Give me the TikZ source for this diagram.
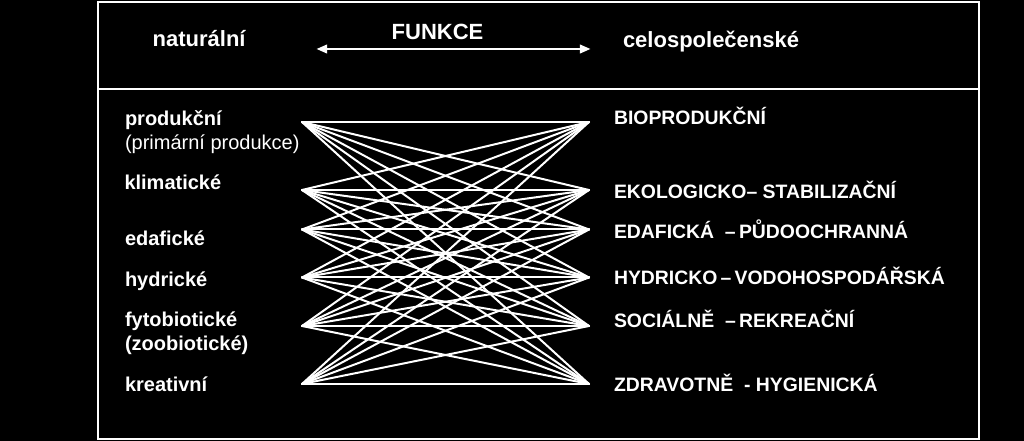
\documentclass[tikz,border=0pt]{standalone}
\usepackage{fontspec}
\setmainfont{Liberation Sans}
\usetikzlibrary{arrows.meta}

\tikzset{every picture/.style={line width=1.5pt}}
\tikzset{hdr/.style={font=\fontsize{16.5}{19}\selectfont\bfseries},
         lbl/.style={font=\fontsize{15}{18}\selectfont\bfseries},
         lblr/.style={font=\fontsize{15}{18}\selectfont},
         caps/.style={font=\fontsize{14.55}{18}\selectfont\bfseries}}

\begin{document}
\begin{tikzpicture}[x=0.75pt,y=0.75pt,yscale=-1,xscale=1,white]
        %background, 1024 x 441
        \fill [black] (0,0) rectangle (1024,441);
        \useasboundingbox (0,0) rectangle (1024,441);

        %Shape: Rectangle [id:frame]
        \draw   (97.5,2.5) -- (979,2.5) -- (979,439) -- (97.5,439) -- cycle ;
        %Straight Lines [id:divider]
        \draw   (97.5,89) -- (979,89) ;

        %end points of the links
        \coordinate (n1) at (302,122);
        \coordinate (n2) at (302,190);
        \coordinate (n3) at (302,229.5);
        \coordinate (n4) at (302,277.5);
        \coordinate (n5) at (302,326);
        \coordinate (n6) at (302,384);
        \coordinate (c1) at (589,122);
        \coordinate (c2) at (589,190);
        \coordinate (c3) at (589,229.5);
        \coordinate (c4) at (589,277.5);
        \coordinate (c5) at (589,326);
        \coordinate (c6) at (589,384);

        %Straight Lines [id:links]
        \foreach \i in {1,...,6} {
          \foreach \j in {1,...,6} {
            \draw [line cap=round]  (n\i) -- (c\j) ;
          }
        }

        % Text Node
        \draw (390.7,39.5) node (funkce) [anchor=base west][inner sep=0pt] [hdr] {FUNKCE};
        % Text Node
        \draw (151.7,46.7) node (natur) [anchor=base west][inner sep=0pt] [hdr] {naturální};
        % Text Node
        \draw (622,48) node (celo) [anchor=base west][inner sep=0pt] [hdr] {celospolečenské};
        %Straight Lines [id:arrow]
        \coordinate (al) at (316.5,49);
        \coordinate (ar) at (590.5,49);
        \draw [{Triangle[length=8pt,width=6.5pt]}-{Triangle[length=8pt,width=6.5pt]}]  (al) -- (ar) ;

        % Text Node
        \draw (124,126) node (prod) [anchor=base west][inner sep=0pt] [lbl] {produkční};
        % Text Node
        \draw (124,150) node (prim) [anchor=base west][inner sep=0pt] [lblr] {(primární produkce)};
        % Text Node
        \draw (123.5,189.5) node (klim) [anchor=base west][inner sep=0pt] [lbl] {klimatické};
        % Text Node
        \draw (124,246) node (edaf) [anchor=base west][inner sep=0pt] [lbl] {edafické};
        % Text Node
        \draw (124,286.5) node (hydr) [anchor=base west][inner sep=0pt] [lbl] {hydrické};
        % Text Node
        \draw (124,326.5) node (fyto) [anchor=base west][inner sep=0pt] [lbl] {fytobiotické};
        % Text Node
        \draw (124,350.5) node (zoo) [anchor=base west][inner sep=0pt] [lbl] {(zoobiotické)};
        % Text Node
        \draw (124,391.5) node (krea) [anchor=base west][inner sep=0pt] [lbl] {kreativní};

        % Text Node
        \draw (613,125) node (bio) [anchor=base west][inner sep=0pt] [caps] {BIOPRODUKČNÍ};
        % Text Node
        \draw (613,199) node (eko) [anchor=base west][inner sep=0pt] [caps] {EKOLOGICKO– STABILIZAČNÍ};
        % Text Node
        \draw (613,238.5) node (puda) [anchor=base west][inner sep=0pt] [caps] {EDAFICKÁ \ –\,PŮDOOCHRANNÁ};
        % Text Node
        \draw (613,285) node (voda) [anchor=base west][inner sep=0pt] [caps] {HYDRICKO\,–\,VODOHOSPODÁŘSKÁ};
        % Text Node
        \draw (613,327.5) node (soc) [anchor=base west][inner sep=0pt] [caps] {SOCIÁLNĚ \ –\,REKREAČNÍ};
        % Text Node
        \draw (613,391.5) node (zdr) [anchor=base west][inner sep=0pt] [caps] {ZDRAVOTNĚ \ - HYGIENICKÁ};
    \end{tikzpicture}
\end{document}
